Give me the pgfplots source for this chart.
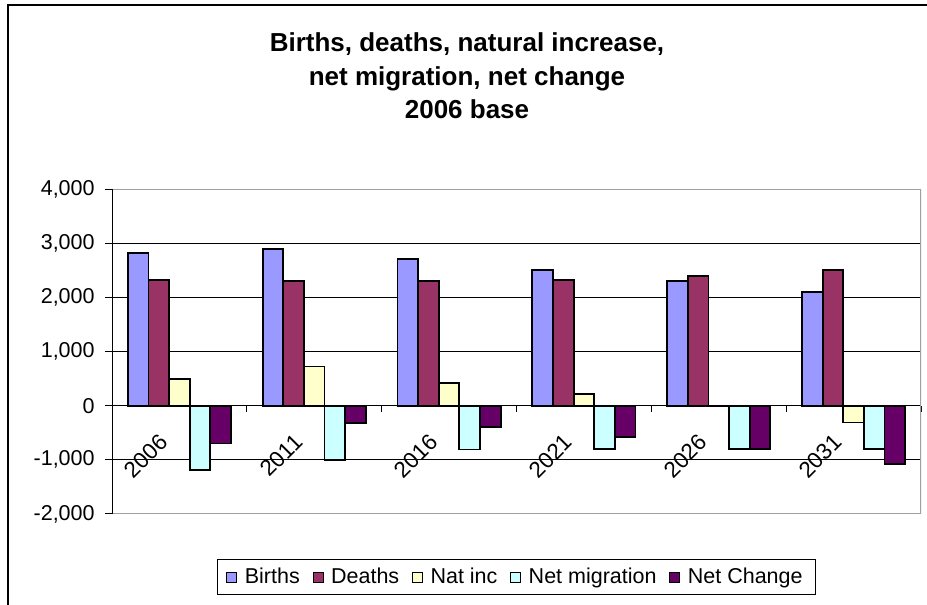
\documentclass[border=0pt]{standalone}
\usepackage{pgfplots}
\pgfplotsset{compat=1.18}
\usepackage{fontspec}
\setmainfont{Liberation Sans}
\definecolor{cBirths}{HTML}{9999FF}
\definecolor{cDeaths}{HTML}{993366}
\definecolor{cNat}{HTML}{FFFFCC}
\definecolor{cMig}{HTML}{CCFFFF}
\definecolor{cNet}{HTML}{660066}
\definecolor{frameGray}{HTML}{A0A0A0}
\begin{document}
\begin{tikzpicture}[x=1pt,y=1pt]
\path[use as bounding box] (0,0) rectangle (463.5,302.5);
\draw[line width=0.6pt] (4,-2) -- (4,300) -- (466,300);
\node[align=center, font=\fontsize{13}{16.75}\selectfont\bfseries] at (233.5,264.5) {Births, deaths, natural increase,\\net migration, net change\\2006 base};
\begin{axis}[
  at={(56pt,45.5pt)}, anchor=south west,
  scale only axis, width=404.5pt, height=162.5pt,
  xmin=-0.5, xmax=5.5, ymin=-2000, ymax=4000,
  ybar=0pt, bar width=0.153,
  axis x line=middle, axis y line=left,
  axis line style={-, black, line width=0.5pt},
  xtick={0,1,2,3,4,5},
  xticklabels={2006,2011,2016,2021,2026,2031},
  minor xtick={-0.5,0.5,1.5,2.5,3.5,4.5,5.5},
  major x tick style={draw=none},
  minor x tick style={black, line width=0.5pt},
  minor tick length=3pt,
  ytick={-2000,-1000,0,1000,2000,3000,4000},
  y tick style={black, line width=0.5pt},
  major tick length=3.5pt,
  tick align=outside,
  ymajorgrids, grid style={black, line width=0.5pt},
  /pgf/number format/.cd, 1000 sep={,}, assume math mode=true,
  /pgfplots/.cd,
  yticklabel style={font=\fontsize{10.75}{12}\selectfont, inner sep=0pt, xshift=-5pt},
  xticklabel style={font=\fontsize{11.25}{12}\selectfont, xshift=-10.6pt, yshift=-9.7pt, rotate=45, anchor=north east, inner sep=0pt},
  legend style={at={(0.5,-0.194)}, anchor=center, legend columns=5, draw=black, line width=0.5pt,
    inner xsep=4.5pt,
    font=\fontsize{10.75}{12}\selectfont, /tikz/every even column/.append style={column sep=4.4pt}},
  legend image code/.code={\draw[#1, line width=0.5pt] (0pt,-2.5pt) rectangle (5pt,2.5pt); \path[draw=none, fill=none] (7pt,0pt);},
  every axis plot/.append style={draw=black, line width=0.9pt},
]
\addplot[fill=cBirths] coordinates {(0,2815) (1,2889) (2,2704) (3,2512) (4,2300) (5,2099)};
\addplot[fill=cDeaths] coordinates {(0,2321) (1,2300) (2,2300) (3,2321) (4,2401) (5,2500)};
\addplot[fill=cNat] coordinates {(0,488) (1,722) (2,414) (3,222) (4,0) (5,-309)};
\addplot[fill=cMig] coordinates {(0,-1191) (1,-1000) (2,-809) (3,-800) (4,-800) (5,-800)};
\addplot[fill=cNet] coordinates {(0,-698) (1,-315) (2,-395) (3,-580) (4,-800) (5,-1080)};
\legend{Births,Deaths,Nat inc,Net migration,Net Change}
\draw[frameGray, line width=0.7pt] (rel axis cs:0,1) -- (rel axis cs:1,1) -- (rel axis cs:1,0) -- (rel axis cs:0,0);
\draw[black, line width=0.5pt] (rel axis cs:0,0) -- (rel axis cs:0,1);
\end{axis}
\end{tikzpicture}
\end{document}
